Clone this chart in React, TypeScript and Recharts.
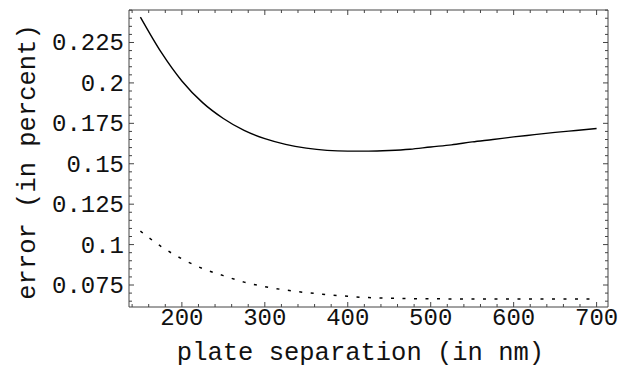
import { LineChart, Line, XAxis, YAxis } from 'recharts';

// plate separation (nm) sampled along both curves
const separation = [
  150, 175, 200, 225, 250, 275, 300, 325, 350, 375, 400, 425, 450, 475, 500, 525, 550, 575, 600,
  625, 650, 675, 700,
];
// solid curve
const totalError = [
  0.2407, 0.219, 0.2012, 0.1878, 0.178, 0.1706, 0.1655, 0.162, 0.1597, 0.1583, 0.1578, 0.1578,
  0.1582, 0.159, 0.1604, 0.1617, 0.1635, 0.165, 0.1666, 0.168, 0.1694, 0.1706, 0.1718,
];
// dotted curve
const lowerError = [
  0.1083, 0.0988, 0.0912, 0.0852, 0.0808, 0.0768, 0.074, 0.0719, 0.0703, 0.0691, 0.068, 0.0672,
  0.0668, 0.0666, 0.0665, 0.0664, 0.0664, 0.0664, 0.0663, 0.0663, 0.0663, 0.0663, 0.0663,
];

const xMajorTicks = [200, 300, 400, 500, 600, 700];
const xMinorTicks = [
  140, 160, 180, 220, 240, 260, 280, 320, 340, 360, 380, 420, 440, 460, 480, 520, 540, 560, 580,
  620, 640, 660, 680,
];
const yMajorTicks = [0.075, 0.1, 0.125, 0.15, 0.175, 0.2, 0.225];
const yMinorTicks = [
  0.065, 0.07, 0.08, 0.085, 0.09, 0.095, 0.105, 0.11, 0.115, 0.12, 0.13, 0.135, 0.14, 0.145, 0.155,
  0.16, 0.165, 0.17, 0.18, 0.185, 0.19, 0.195, 0.205, 0.21, 0.215, 0.22, 0.23, 0.235, 0.24, 0.245,
];

const xDomain: [number, number] = [136.25, 713.75];
const yDomain: [number, number] = [0.0614, 0.2451];

const data = separation.map((s, i) => ({ s, total: totalError[i], lower: lowerError[i] }));

const xTicks = [...xMajorTicks, ...xMinorTicks].sort((a, b) => a - b);
const yTicks = [...yMajorTicks, ...yMinorTicks].sort((a, b) => a - b);

const FONT = '"Liberation Mono", "DejaVu Sans Mono", monospace';
const FRAME = '#444';

// ticks point into the frame; only bottom/left carry labels
function FrameTick(props: any) {
  const { x, y, payload, side, majors } = props;
  const major = majors.includes(payload.value);
  const len = major ? 5 : 3;
  const label = String(payload.value);
  if (side === 'bottom' || side === 'top') {
    const dir = side === 'bottom' ? -1 : 1;
    return (
      <g>
        <line x1={x} y1={y} x2={x} y2={y + dir * len} stroke={FRAME} strokeWidth={1} />
        {side === 'bottom' && major && (
          <text x={x} y={y + 18} textAnchor="middle" fontFamily={FONT} fontSize={24} fill="#111">
            {label}
          </text>
        )}
      </g>
    );
  }
  const dir = side === 'left' ? 1 : -1;
  return (
    <g>
      <line x1={x} y1={y} x2={x + dir * len} y2={y} stroke={FRAME} strokeWidth={1} />
      {side === 'left' && major && (
        <text x={x - 5} y={y + 8} textAnchor="end" fontFamily={FONT} fontSize={24} fill="#111">
          {label}
        </text>
      )}
    </g>
  );
}

const axisCommon = {
  type: 'number' as const,
  allowDataOverflow: true,
  interval: 0 as const,
  tickSize: 0,
  tickMargin: 0,
  tickLine: false,
  axisLine: { stroke: FRAME, strokeWidth: 1 },
};

export default function App() {
  return (
    <div style={{ position: 'absolute', left: 0, top: 0, background: '#fff' }}>
      <LineChart width={630} height={367} data={data} margin={{ top: 9, right: 21, bottom: 59, left: 128 }}>
        <XAxis
          {...axisCommon}
          xAxisId="b"
          dataKey="s"
          domain={xDomain}
          ticks={xTicks}
          height={1}
          tick={<FrameTick side="bottom" majors={xMajorTicks} />}
          label={{
            content: ({ viewBox }: any) => (
              <text
                x={viewBox.x + viewBox.width / 2 - 8}
                y={360}
                textAnchor="middle"
                fontFamily={FONT}
                fontSize={25.5}
                fill="#111"
              >
                plate separation (in nm)
              </text>
            ),
          }}
        />
        <XAxis
          {...axisCommon}
          xAxisId="t"
          orientation="top"
          dataKey="s"
          domain={xDomain}
          ticks={xTicks}
          height={1}
          tick={<FrameTick side="top" majors={xMajorTicks} />}
        />
        <YAxis
          {...axisCommon}
          yAxisId="l"
          domain={yDomain}
          ticks={yTicks}
          width={1}
          tick={<FrameTick side="left" majors={yMajorTicks} />}
          label={{
            content: () => (
              <text
                x={35}
                y={162}
                transform="rotate(-90 35 162)"
                textAnchor="middle"
                fontFamily={FONT}
                fontSize={25.5}
                fill="#111"
              >
                error (in percent)
              </text>
            ),
          }}
        />
        <YAxis
          {...axisCommon}
          yAxisId="r"
          orientation="right"
          domain={yDomain}
          ticks={yTicks}
          width={1}
          tick={<FrameTick side="right" majors={yMajorTicks} />}
        />
        <Line
          xAxisId="b"
          yAxisId="l"
          type="monotone"
          dataKey="total"
          stroke="#000"
          strokeWidth={1.4}
          dot={false}
          isAnimationActive={false}
        />
        <Line
          xAxisId="b"
          yAxisId="l"
          type="monotone"
          dataKey="lower"
          stroke="#000"
          strokeWidth={1.5}
          strokeDasharray="3 8.5"
          dot={false}
          isAnimationActive={false}
        />
      </LineChart>
    </div>
  );
}
